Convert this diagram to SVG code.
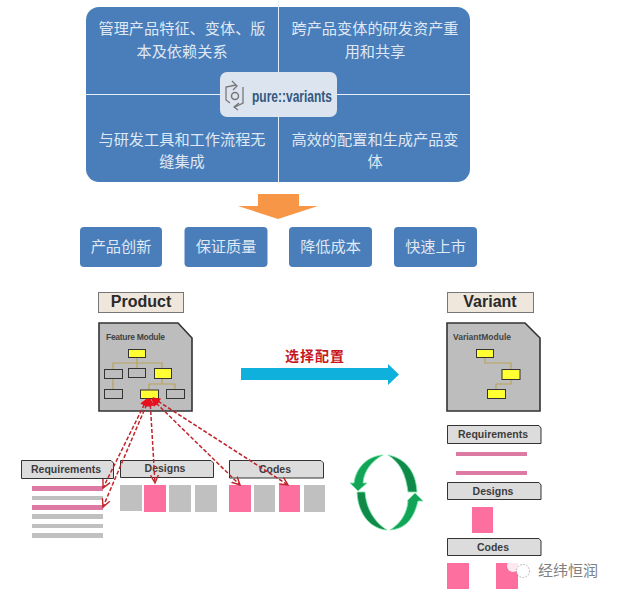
<svg xmlns="http://www.w3.org/2000/svg" width="617" height="597" viewBox="0 0 617 597">
<style>
.cn{font-family:"Noto Sans CJK SC","Liberation Sans",sans-serif;font-size:15.2px;fill:#dfe8f3;text-anchor:middle}
.blue{fill:#4a7ebb}
.tab{fill:#dcdcdc;stroke:#333;stroke-width:1}
.tabt{font-family:"Liberation Sans",sans-serif;font-size:10.5px;fill:#3c3c3c;text-anchor:middle;font-weight:bold}
.lab{fill:#efe6dc;stroke:#777;stroke-width:1}
.labt{font-family:"Liberation Sans",sans-serif;font-size:16px;font-weight:bold;fill:#2a2a2a;text-anchor:middle}
.mod{fill:#bdbdbd;stroke:#333;stroke-width:1.6}
.modt{font-family:"Liberation Sans",sans-serif;font-size:8.5px;font-weight:bold;fill:#444}
.y{fill:#ffff33;stroke:#333;stroke-width:1}
.g{fill:#bdbdbd;stroke:#333;stroke-width:1}
.pk{fill:#fd6f9f}
.pl{fill:#dc7aa3}
.gr{fill:#c0c0c0}
.tree{fill:none;stroke:#b9a35c;stroke-width:1.2}
.dash{fill:none;stroke:#c0242c;stroke-width:1.500;stroke-dasharray:4 2;marker-end:url(#ra);marker-start:url(#rb)}
</style>
<defs>
<marker id="ra" markerWidth="10" markerHeight="10" refX="8" refY="5" orient="auto" markerUnits="userSpaceOnUse"><path d="M0 1L8 5L0 9" fill="none" stroke="#c0242c" stroke-width="1.400"/></marker>
<marker id="rb" markerWidth="10" markerHeight="10" refX="1" refY="5" orient="auto" markerUnits="userSpaceOnUse"><path d="M8 1L0 5L8 9Z" fill="#e8101c"/></marker>
</defs>
<rect width="617" height="597" fill="#fff"/>
<g id="panel">
<rect class="blue" x="86" y="7" width="384" height="175" rx="13"/>
<path d="M278.500 0V182M86 94.500H470" stroke="#e6eef6" stroke-width="1" fill="none"/>
<text class="cn" x="182" y="34">管理产品特征、变体、版</text>
<text class="cn" x="182" y="57">本及依赖关系</text>
<text class="cn" x="375" y="34">跨产品变体的研发资产重</text>
<text class="cn" x="375" y="57">用和共享</text>
<text class="cn" x="182" y="145">与研发工具和工作流程无</text>
<text class="cn" x="182" y="167">缝集成</text>
<text class="cn" x="375" y="145">高效的配置和生成产品变</text>
<text class="cn" x="375" y="167">体</text>
</g>
<g id="logo">
<rect x="220" y="72" width="117" height="45" rx="7" fill="#dce4f0"/>
<path d="M236 85L226 87V100L230 103M232 81L237 86L233 90M243 87V103L235 107M239 103L234 107L238 110" fill="none" stroke="#777" stroke-width="1.300"/>
<circle cx="235" cy="96" r="3.500" fill="none" stroke="#777" stroke-width="1.500"/>
<text x="252" y="102" font-family="'Liberation Sans',sans-serif" font-size="16" font-weight="bold" fill="#34587f" textLength="80" lengthAdjust="spacingAndGlyphs">pure::variants</text>
</g>
<g id="down-arrow"><path d="M258 194H299V206H318L278 219L238 206H258Z" fill="#f79646"/></g>
<g id="b1"><rect class="blue" x="80" y="227" width="82" height="40" rx="4"/><text class="cn" x="121" y="252">产品创新</text></g>
<g id="b2"><rect class="blue" x="184.500" y="227" width="83" height="40" rx="4"/><text class="cn" x="226" y="252">保证质量</text></g>
<g id="b3"><rect class="blue" x="289" y="227" width="83" height="40" rx="4"/><text class="cn" x="330.500" y="252">降低成本</text></g>
<g id="b4"><rect class="blue" x="394" y="227" width="83" height="40" rx="4"/><text class="cn" x="435.500" y="252">快速上市</text></g>
<g id="product">
<rect class="lab" x="98.500" y="292.500" width="85" height="20"/><text class="labt" x="141" y="307">Product</text>
<path class="mod" d="M99 323H178L192 338V411H99Z"/>
<text class="modt" x="106" y="340" textLength="59">Feature Module</text>
<path class="tree" d="M137 357V363M113 369V363H162V368M137 363V368M113 378V389M162 378V384H149V390M149 384H175V389"/>
<rect class="y" x="128.500" y="349.500" width="17" height="8"/>
<rect class="g" x="104.500" y="369.500" width="18" height="9"/>
<rect class="g" x="128.500" y="368.500" width="17" height="9"/>
<rect class="y" x="154.500" y="368.500" width="17" height="10"/>
<rect class="g" x="104.500" y="389.500" width="18" height="9"/>
<rect class="y" x="140.500" y="390" width="18" height="8.500"/>
<rect class="g" x="166.500" y="389.500" width="18" height="9"/>
</g>
<g id="product-parts">
<path class="tab" d="M21.500 460.500H111L113.500 463V478.500H21.500Z"/><text class="tabt" x="66" y="473">Requirements</text>
<path class="tab" d="M120.500 460.500H211L213.500 463V477.500H120.500Z"/><text class="tabt" x="165" y="472">Designs</text>
<path class="tab" d="M229.500 460.500H321L323.500 463V478H229.500Z"/><text class="tabt" x="275" y="473">Codes</text>
<rect class="pl" x="32" y="486" width="71" height="5"/><rect class="gr" x="32" y="496" width="71" height="4"/><rect class="pl" x="32" y="505" width="71" height="5"/><rect class="gr" x="32" y="514" width="71" height="5"/><rect class="gr" x="32" y="524" width="71" height="4"/><rect class="gr" x="32" y="533" width="71" height="5"/>
<rect class="gr" x="120" y="485" width="22" height="26"/><rect class="pk" x="144" y="485" width="22" height="27"/><rect class="gr" x="169" y="485" width="22" height="27"/><rect class="gr" x="195" y="485" width="22" height="27"/>
<rect class="pk" x="229" y="485" width="22" height="27"/><rect class="gr" x="254" y="485" width="21" height="27"/><rect class="pk" x="279" y="485" width="21" height="27"/><rect class="gr" x="304" y="485" width="21" height="27"/>
</g>
<g id="connectors">
<path class="dash" d="M147 399L103 488"/>
<path class="dash" d="M149 399L103 507"/>
<path class="dash" d="M150 399L155 483"/>
<path class="dash" d="M152 399L240 485"/>
<path class="dash" d="M153 398L288 485"/>
<path d="M241 368H388V364L399 374.500L388 385V380H241Z" fill="#10b0dc"/>
</g>
<text x="315" y="361" font-family="Noto Sans CJK SC,sans-serif" font-size="14" font-weight="700" fill="#c8161d" text-anchor="middle" letter-spacing="1">选择配置</text>
<g id="variant">
<rect class="lab" x="447.500" y="292.500" width="86" height="20"/><text class="labt" x="490" y="307">Variant</text>
<path class="mod" d="M447 323H525L540 338V411H447Z"/>
<text class="modt" x="453" y="340" textLength="58">VariantModule</text>
<path class="tree" d="M485 357V363H511V369M511 379V384H496V389"/>
<rect class="y" x="476.500" y="349.500" width="17" height="8"/>
<rect class="y" x="502" y="369.500" width="18" height="10"/>
<rect class="y" x="487.500" y="389.500" width="18" height="9"/>
</g>
<g id="variant-parts">
<path class="tab" d="M447.500 425.500H539L541 428V443.500H447.500Z"/><text class="tabt" x="493" y="438">Requirements</text>
<rect class="pl" x="456" y="452" width="71" height="4"/><rect class="pl" x="456" y="471" width="71" height="4"/>
<path class="tab" d="M447.500 482.500H539L541 485V499.500H447.500Z"/><text class="tabt" x="493" y="495">Designs</text>
<rect class="pk" x="472" y="507" width="21" height="26"/>
<path class="tab" d="M447.500 538.500H539L541 541V555.500H447.500Z"/><text class="tabt" x="493" y="551">Codes</text>
<rect class="pk" x="447" y="563" width="22" height="26"/><rect class="pk" x="496" y="563" width="22" height="26"/>
</g>
<g id="cycle" stroke="#7fe6ac" stroke-width="0.800">
<path d="M383 455C373 460 364 470 363 483H367L358 491L350 483H354C356 468 367 456 383 455Z" fill="#12a557"/>
<path d="M388 455C404 458 416 470 417 492H408C406 476 401 463 388 455Z" fill="#0f8a48"/>
<path d="M357 492H365C366 508 374 522 387 530C372 529 358 516 357 492Z" fill="#0f8a48"/>
<path d="M390 530C400 524 407 514 408 501H407L415 493L423 501H418C414 518 406 529 390 530Z" fill="#12a557"/>
</g>
<g id="watermark">
<circle cx="513" cy="566" r="6" fill="#fff" fill-opacity=".85"/>
<circle cx="523" cy="571" r="6.500" fill="#fff" stroke="#999" stroke-width="0.800" stroke-dasharray="1.500 1.500"/>
<text x="538" y="576" font-family="Noto Sans CJK SC,sans-serif" font-size="15" fill="#808080" textLength="60">经纬恒润</text>
</g>
</svg>
